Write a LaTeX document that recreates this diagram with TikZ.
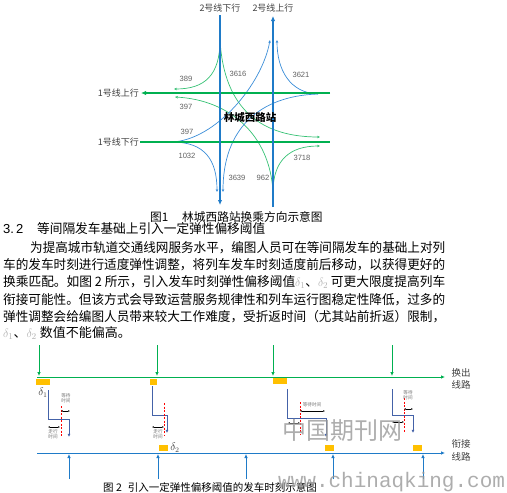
\documentclass[tikz,border=0pt]{standalone}
\usepackage{fontspec}
\usepackage{graphicx}
\usetikzlibrary{arrows.meta}
\newfontfamily\cjk{Noto Sans CJK SC}
\newfontfamily\lsans{Liberation Sans}
\newfontfamily\lmono{Liberation Mono}
\newcommand{\myfs}[1]{\fontsize{#1}{#1}\selectfont}
\definecolor{lgreen}{HTML}{00B050}
\definecolor{lblue}{HTML}{1F7BC8}
\definecolor{cgreen}{HTML}{36C174}
\definecolor{cblue}{HTML}{3B8DD8}
\definecolor{navy}{HTML}{4462A8}
\definecolor{amber}{HTML}{FFC000}
\definecolor{numgray}{HTML}{606060}
\tikzset{
  mainl/.style={line width=1.8pt},
  mtip/.style={-{Latex[length=5pt,width=4.5pt]}},
  gcurve/.style={cgreen, line width=0.7pt, -{Stealth[length=3pt,width=2.6pt]}},
  bcurve/.style={cblue, line width=0.7pt, -{Stealth[length=3pt,width=2.6pt]}},
  lab/.style={inner sep=0pt, font=\cjk\myfs{9}, text=black!75},
  num/.style={inner sep=0pt, font=\lsans\myfs{7.6}, text=numgray},
  body/.style={inner sep=0pt, anchor=west, font=\cjk\myfs{13}, text=black},
  g2line/.style={lgreen, line width=0.9pt},
  b2line/.style={lblue, line width=0.9pt},
  gtip/.style={-{Latex[length=4pt,width=3.6pt]}},
  box/.style={fill=amber, draw=none},
  stepl/.style={navy, line width=0.9pt, -{Latex[length=3.2pt,width=3pt]}},
  redd/.style={red, line width=0.8pt, dash pattern=on 2pt off 1.5pt},
  dbl/.style={black, line width=0.5pt, {Latex[length=1.8pt,width=1.6pt]}-{Latex[length=1.8pt,width=1.6pt]}},
  tiny/.style={inner sep=0pt, font=\cjk\myfs{4.6}, text=black!55, align=center},
  side/.style={inner sep=0pt, font=\cjk\myfs{9.5}, text=black!75, align=center},
}
\begin{document}
\begin{tikzpicture}[x=1pt,y=-1pt]
\useasboundingbox (0,0) rectangle (507,493);
% ---------------- Figure 1 ----------------
\node[lab] (t2d) at (220,8) {2号线下行};
\node[lab] (t2u) at (273,8) {2号线上行};
\node[lab, anchor=east] (t1u) at (139,93) {1号线上行};
\node[lab, anchor=east] (t1d) at (139,142) {1号线下行};
\coordinate (Dtop) at (220,15); \coordinate (Dbot) at (220,205);
\coordinate (Ubot) at (273,207); \coordinate (Utop) at (273,16);
\coordinate (LUr) at (330,93); \coordinate (LUl) at (141,93);
\coordinate (LDl) at (140,142); \coordinate (LDr) at (330,142);
% curves
\coordinate (A) at (220,40);
\coordinate (B) at (273,192);
\coordinate (C) at (318,94);
\coordinate (D) at (172,142);
\draw[gcurve] (A) .. controls (220,75) and (205,89) .. (174,89);
\draw[gcurve] (A) .. controls (224,110) and (262,137) .. (320,137);
\draw[gcurve] (B) .. controls (270,135) and (230,100) .. (175,97);
\draw[gcurve] (B) .. controls (273,160) and (290,146) .. (320,146);
\draw[bcurve] (C) .. controls (290,93) and (277,70) .. (277,40);
\draw[bcurve] (C) .. controls (258,96) and (223,130) .. (223,192);
\draw[bcurve] (D) .. controls (215,140) and (262,85) .. (270,40);
\draw[bcurve] (D) .. controls (205,142) and (217,160) .. (217,192);
% main lines
\draw[mainl, lgreen, mtip] (LUr) -- (LUl);
\draw[mainl, lgreen] (LDl) -- (LDr);
\draw[mainl, lblue, mtip] (Dtop) -- (Dbot);
\draw[mainl, lblue, mtip] (Ubot) -- (Utop);
\node[inner sep=0pt, font=\cjk\bfseries\myfs{10.5}] (stn) at (250,117) {林城西路站};
% numbers
\node[num] (n389) at (186,79) {389};
\node[num] (n3616) at (238,74) {3616};
\node[num] (n3621) at (301,75) {3621};
\node[num] (n397a) at (186,107) {397};
\node[num] (n397b) at (187,132) {397};
\node[num] (n1032) at (187,156) {1032};
\node[num] (n3639) at (237,178) {3639};
\node[num] (n962) at (263,178) {962};
\node[num] (n3718) at (302,158) {3718};
% caption 1
\node[inner sep=0pt, anchor=west, font=\cjk\myfs{11.7}] (cap1a) at (150,217) {图1};
\node[inner sep=0pt, anchor=west, font=\cjk\myfs{11.7}] (cap1b) at (182,217) {林城西路站换乘方向示意图};
% ---------------- Text ----------------
\node[body] (h) at (3,229) {\lsans 3.\,2};
\node[body] (h2) at (37,229) {\resizebox{228pt}{\height}{等间隔发车基础上引入一定弹性偏移阈值}};
\node[body] (p1) at (30,247.7) {\resizebox{415pt}{\height}{为提高城市轨道交通线网服务水平，编图人员可在等间隔发车的基础上对列}};
\node[body] (p2) at (3,265) {\resizebox{442pt}{\height}{车的发车时刻进行适度弹性调整，将列车发车时刻适度前后移动，以获得更好的}};
\node[body] (p3) at (3,282.3) {\resizebox{442pt}{\height}{换乘匹配。如图 2 所示，引入发车时刻弹性偏移阈值{\color{black!30}$\delta_1$}、{\color{black!30}$\delta_2$} 可更大限度提高列车}};
\node[body] (p4) at (3,300) {\resizebox{442pt}{\height}{衔接可能性。但该方式会导致运营服务规律性和列车运行图稳定性降低，过多的}};
\node[body] (p5) at (3,316.7) {\resizebox{442pt}{\height}{弹性调整会给编图人员带来较大工作难度，受折返时间（尤其站前折返）限制，}};
\node[body] (p6) at (3,333.3) {{\color{black!30}$\delta_1$}、{\color{black!30}$\delta_2$} 数值不能偏高。};
% ---------------- Figure 2 ----------------
\coordinate (GL) at (37,377); \coordinate (GR) at (445,377);
\coordinate (BL) at (37,453); \coordinate (BR) at (445,453);
\draw[g2line, gtip] (GL) -- (GR);
\draw[b2line, gtip] (BL) -- (BR);
\foreach \x/\n in {39/g1,157/g2,273/g3,392/g4}{
  \coordinate (\n s) at (\x,345); \coordinate (\n e) at (\x,376);
  \draw[g2line, gtip] (\n s) -- (\n e);
}
\foreach \x/\n in {69/b1,158/b2,246/b3,333/b4,423/b5}{
  \coordinate (\n s) at (\x,479); \coordinate (\n e) at (\x,454);
  \draw[b2line, gtip] (\n s) -- (\n e);
}
\node[side] (sw1) at (461,379) {换出\\[3pt]线路};
\node[side] (sw2) at (461,450.5) {衔接\\[3pt]线路};
% boxes
\fill[box] (36,379) rectangle (50,385);
\fill[box] (150,379) rectangle (157,385);
\fill[box] (273,378) rectangle (287,384);
\fill[box] (159,445) rectangle (168,451);
\fill[box] (325,445) rectangle (334,451);
\fill[box] (413,445) rectangle (422,451);
\node[inner sep=0pt, text=black!75, font=\myfs{10.5}] (d1) at (43,393) {$\delta_1$};
\node[inner sep=0pt, text=black!75, font=\myfs{10.5}] (d2) at (175,448) {$\delta_2$};
% step paths
\draw[stepl] (48,390) -- (48,419) -- (69,419) -- (69,437);
\draw[stepl] (152,386) -- (152,415) -- (167,415) -- (167,433);
\draw[stepl] (287,389) -- (287,418) -- (326,418) -- (326,437);
\draw[stepl] (392,389) -- (392,415) -- (413,415) -- (413,433);
\draw[redd] (61,406) -- (61,437);
\draw[redd] (164,403) -- (164,435);
\draw[redd] (300,402) -- (300,435);
\draw[redd] (404,398) -- (404,432);
\draw[dbl] (61,411) -- (70,411);
\draw[dbl] (48,427) -- (60,427);
\draw[dbl] (152,427) -- (164,427);
\draw[dbl] (300,411) -- (325,411);
\draw[dbl] (288,423) -- (300,423);
\draw[dbl] (404,409) -- (413,409);
\draw[dbl] (392,422) -- (404,422);
\node[tiny] (w1) at (66,398.5) {等待\\时间};
\node[tiny] (r1) at (53,434) {走行\\时间};
\node[tiny] (r2) at (158,434) {走行\\时间};
\node[tiny] (w3) at (312,404.5) {等待时间};
\node[tiny] (w4) at (408,395.5) {等待\\时间};
% caption 2
\node[inner sep=0pt, anchor=west, font=\cjk\myfs{10.5}] (cap2) at (103,487) {图 2\hspace{6pt}引入一定弹性偏移阈值的发车时刻示意图};
% watermarks
\node[inner sep=0pt, font=\cjk\myfs{24}, text=black!40, opacity=0.8] (wm1) at (342,430) {中国期刊网};
\node[inner sep=0pt, anchor=west, font=\lmono\myfs{21}, text=black!40, opacity=0.8] (wm2) at (278,482) {www.chinaqking.com};
\end{tikzpicture}
\end{document}
